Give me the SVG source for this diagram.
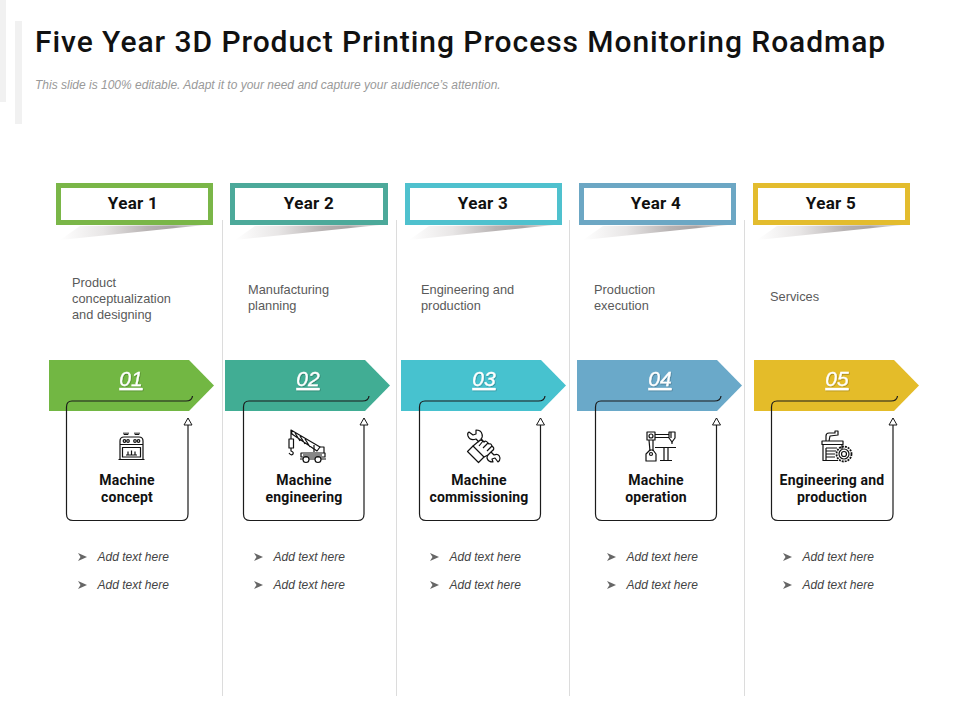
<svg xmlns="http://www.w3.org/2000/svg" xmlns:xlink="http://www.w3.org/1999/xlink" width="960" height="720" viewBox="0 0 960 720">
<style>
text{font-family:"Liberation Sans",Arial,sans-serif}
.head{font-family:Roboto,"Liberation Sans",sans-serif;font-weight:700;fill:#111;text-anchor:middle}
.title{font-family:Roboto,"Liberation Sans",sans-serif;font-weight:500;font-size:30px;fill:#111;letter-spacing:.94px}
.sub{font-size:12px;font-style:italic;fill:#999}
.yr{font-size:17px;letter-spacing:.3px}
.lab{font-size:14px;letter-spacing:.2px}
.desc{font-size:12.800px;fill:#5a5a5a}
.num{font-size:21px;font-style:italic;fill:#fff;stroke:#fff;stroke-width:.3;text-anchor:middle;text-decoration:underline;filter:url(#ts)}
.add{font-size:12px;font-style:italic;fill:#444}
.sep{stroke:#dcdcdc;stroke-width:1;fill:none}
.box{fill:#fff;stroke-width:5}
.frame{fill:none;stroke:#1b1b1b;stroke-width:1.200;marker-end:url(#tri)}
.ic{fill:none;stroke:#111;stroke-width:1.200;stroke-linejoin:round}
</style>
<defs>
<linearGradient id="sh" x1="0" y1="0" x2="1" y2="0">
<stop offset="0" stop-color="#fff"/><stop offset=".3" stop-color="#e8e6e6"/><stop offset=".6" stop-color="#b8b3b3"/><stop offset=".78" stop-color="#aaa5a5"/><stop offset="1" stop-color="#e4e4e4"/>
</linearGradient>
<filter id="ts" x="-20%" y="-20%" width="140%" height="140%"><feDropShadow dx=".6" dy=".8" stdDeviation=".4" flood-color="#000" flood-opacity=".3"/></filter>
<marker id="tri" markerUnits="userSpaceOnUse" markerWidth="10" markerHeight="10" refX="8" refY="5" orient="auto">
<path d="M1 1 L8 5 L1 9 Z" fill="#fff" stroke="#1b1b1b" stroke-width="1"/>
</marker>
<path id="shadow" d="M4 15 L24 1 L149 0 Z" fill="url(#sh)"/>
<path id="bul" d="M0 0 L9 4 L0 8 L2.500 4 Z" fill="#666"/>
<path id="pent" d="M0 0 H140 L165 25.500 L140 51 H0 Z"/>
</defs>
<rect width="960" height="720" fill="#fff"/>
<rect x="0" y="0" width="6" height="102" fill="#f1f1f1"/>
<rect x="15" y="21" width="7" height="103" fill="#f1f1f1"/>
<text class="title" x="35" y="52">Five Year 3D Product Printing Process Monitoring Roadmap</text>
<text class="sub" x="35" y="89">This slide is 100% editable. Adapt it to your need and capture your audience’s attention.</text>
<g id="separators">
<path class="sep" d="M222.500 220V696M396.500 220V696M569.500 220V696M744.500 220V696"/>
</g>

<g id="year-1"><use xlink:href="#shadow" x="56" y="225"/><rect class="box" x="58.500" y="185.500" width="152" height="37" stroke="#7AB648"/><text class="head yr" x="133" y="209">Year 1</text>
<text class="desc" x="72" y="287">Product</text><text class="desc" x="72" y="303">conceptualization</text><text class="desc" x="72" y="319">and designing</text></g>
<g id="year-2"><use xlink:href="#shadow" x="231" y="225"/><rect class="box" x="232.500" y="185.500" width="153" height="37" stroke="#4CA99A"/><text class="head yr" x="309" y="209">Year 2</text>
<text class="desc" x="248" y="294">Manufacturing</text><text class="desc" x="248" y="310">planning</text></g>
<g id="year-3"><use xlink:href="#shadow" x="405" y="225"/><rect class="box" x="407.500" y="185.500" width="152" height="37" stroke="#4FC1CE"/><text class="head yr" x="483" y="209">Year 3</text>
<text class="desc" x="421" y="294">Engineering and</text><text class="desc" x="421" y="310">production</text></g>
<g id="year-4"><use xlink:href="#shadow" x="579" y="225"/><rect class="box" x="581.500" y="185.500" width="152" height="37" stroke="#6CA7C4"/><text class="head yr" x="656" y="209">Year 4</text>
<text class="desc" x="594" y="294">Production</text><text class="desc" x="594" y="310">execution</text></g>
<g id="year-5"><use xlink:href="#shadow" x="753" y="225"/><rect class="box" x="755.500" y="185.500" width="152" height="37" stroke="#E3BC2E"/><text class="head yr" x="831" y="209">Year 5</text>
<text class="desc" x="770" y="301">Services</text></g>

<g id="arrow-1"><use xlink:href="#pent" x="49" y="360" fill="#72B743"/><text class="num" x="131" y="386">01</text></g>
<g id="arrow-2"><use xlink:href="#pent" x="225" y="360" fill="#41AD94"/><text class="num" x="308" y="386">02</text></g>
<g id="arrow-3"><use xlink:href="#pent" x="401" y="360" fill="#47C2CF"/><text class="num" x="484" y="386">03</text></g>
<g id="arrow-4"><use xlink:href="#pent" x="577" y="360" fill="#6AA9C9"/><text class="num" x="660" y="386">04</text></g>
<g id="arrow-5"><use xlink:href="#pent" x="754" y="360" fill="#E4BC29"/><text class="num" x="837" y="386">05</text></g>

<g id="connectors">
<path class="frame" d="M192.500 396 Q192 401 186 401 H72 Q66.500 401 66.500 407 V514 Q66.500 520.500 73 520.500 H182 Q188 520.500 188 514 V418"/>
<path class="frame" d="M369 396 Q368.500 401 362.500 401 H249 Q243.500 401 243.500 407 V514 Q243.500 520.500 250 520.500 H358 Q364 520.500 364 514 V418"/>
<path class="frame" d="M545 396 Q544.500 401 538.500 401 H425 Q419.500 401 419.500 407 V514 Q419.500 520.500 426 520.500 H534 Q540.500 520.500 540.500 514 V418"/>
<path class="frame" d="M721 396 Q720.500 401 714.500 401 H601 Q595.500 401 595.500 407 V514 Q595.500 520.500 602 520.500 H710 Q716.500 520.500 716.500 514 V418"/>
<path class="frame" d="M897.500 396 Q897 401 891 401 H777 Q771.500 401 771.500 407 V514 Q771.500 520.500 778 520.500 H887 Q893 520.500 893 514 V418"/>
</g>

<g id="node-1">
<g id="icon-oven" class="ic">
<path d="M118.500 459.500H144.500M120 459V441Q120 437 124 437H139Q143 437 143 441V459M120 444.500H143"/>
<rect x="122.500" y="447.500" width="18" height="9.500"/>
<path d="M124 434.500h4M135 434.500h4M124 432.500v2M126 432.500v2M128 432.500v2M135 432.500v2M137 432.500v2M139 432.500v2"/>
<circle cx="124.500" cy="441" r="1.300"/><circle cx="128" cy="441" r="1.300"/><circle cx="135" cy="441" r="1.300"/><circle cx="138.500" cy="441" r="1.300"/>
<path d="M126 455h11M128 455v-3.500M131.500 455v-4.500M135 455v-3.500"/>
</g>
<text class="head lab" x="127" y="485">Machine</text><text class="head lab" x="127" y="502">concept</text>
<use xlink:href="#bul" x="78" y="553"/><text class="add" x="97.500" y="561">Add text here</text>
<use xlink:href="#bul" x="78" y="581"/><text class="add" x="97.500" y="589">Add text here</text>
</g>
<g id="node-2">
<g id="icon-crane" class="ic">
<path d="M291 430L320 447L317 451L292 434ZM295 433L300 441M300 436L305 444M305 439L310 447M291 430V439"/>
<rect x="289" y="439" width="4.500" height="9"/>
<path d="M291 448V451Q294 452 293 454Q291 456 289 453"/>
<path d="M314 445V452M320 447H324V453M309 453L325 453V457H301V453Z"/>
<circle cx="306" cy="459.500" r="3"/><circle cx="318" cy="459.500" r="3"/><path d="M303 455H322M300 459H303M309 459H315M321 459H326"/>
</g>
<text class="head lab" x="304" y="485">Machine</text><text class="head lab" x="304" y="502">engineering</text>
<use xlink:href="#bul" x="254" y="553"/><text class="add" x="273.500" y="561">Add text here</text>
<use xlink:href="#bul" x="254" y="581"/><text class="add" x="273.500" y="589">Add text here</text>
</g>
<g id="node-3">
<g id="icon-wrench" class="ic" stroke-width="1.500">
<path d="M479 442L476 439Q470 441 468 436Q467 433 469 432L473 435L476 434L476 430Q481 430 482 434Q483 437 481 439L483 441"/>
<path d="M467.500 451.500L473 446L484 457L478.500 462.500Z"/>
<path d="M473 446L479 441Q481 439 483 441L484 442Q486 440 488 443L489 444Q491 443 492 446L493 447Q495 449 492 451L488 455L484 457"/>
<path d="M483 441L479 446M488 443L483 448M492 446L487 451"/>
<path d="M491 452L494 455Q499 453 500 458Q500 461 498 462L495 458L492 459L493 462Q488 462 487 458Q487 456 488 455"/>
</g>
<text class="head lab" x="479" y="485">Machine</text><text class="head lab" x="479" y="502">commissioning</text>
<use xlink:href="#bul" x="430" y="553"/><text class="add" x="449.500" y="561">Add text here</text>
<use xlink:href="#bul" x="430" y="581"/><text class="add" x="449.500" y="589">Add text here</text>
</g>
<g id="node-4">
<g id="icon-robot" class="ic">
<rect x="647" y="432" width="8" height="8"/><circle cx="651" cy="436" r="2"/>
<path d="M655 434.500H669M655 437.500H669"/>
<path d="M669 432H675V438L672 442L669 438Z"/><path d="M671 432V438M672 442V444"/>
<path d="M649 440L650 451M653 440L653 451"/>
<path d="M646 461V454L650 450H653L656 454V461Z"/><circle cx="651" cy="454" r="1.500"/>
<path d="M655 447.500H676M664 448V460M668 448V460M660 460.500H672"/>
</g>
<text class="head lab" x="656" y="485">Machine</text><text class="head lab" x="656" y="502">operation</text>
<use xlink:href="#bul" x="607" y="553"/><text class="add" x="626.500" y="561">Add text here</text>
<use xlink:href="#bul" x="607" y="581"/><text class="add" x="626.500" y="589">Add text here</text>
</g>
<g id="node-5">
<g id="icon-factory" class="ic">
<path d="M826 441V436Q826 433 829 433H835V431H838V435L830 436L829 441"/>
<rect x="822" y="441" width="21" height="3.500"/>
<path d="M823 444.500V460.500H838M842 444.500V449"/>
<path d="M826 448H837M826 448V460M826 451H836M826 454H835M826 457H835"/>
<circle cx="844" cy="454" r="7.500" stroke-dasharray="2 1" stroke-width="1.800"/><circle cx="844" cy="454" r="5"/><circle cx="844" cy="454" r="2.500"/>
</g>
<text class="head lab" x="832" y="485">Engineering and</text><text class="head lab" x="832" y="502">production</text>
<use xlink:href="#bul" x="783" y="553"/><text class="add" x="802.500" y="561">Add text here</text>
<use xlink:href="#bul" x="783" y="581"/><text class="add" x="802.500" y="589">Add text here</text>
</g>
</svg>
